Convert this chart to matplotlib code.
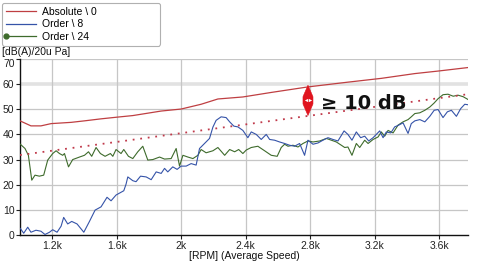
import matplotlib
matplotlib.use("Agg")
import matplotlib.pyplot as plt
from matplotlib.patches import Polygon
from matplotlib.lines import Line2D
import matplotlib.transforms as mtransforms

plt.rcParams['font.family'] = ['Liberation Sans', 'DejaVu Sans']

# ---- data -------------------------------------------------------------
abs_rpm = [1000, 1068, 1130, 1193, 1317, 1400, 1503, 1607, 1700, 1876, 2000,
           2124, 2228, 2383, 2559, 2787, 3036, 3242, 3450, 3594, 3780]
abs_db = [45.4, 43.4, 43.4, 44.3, 44.8, 45.4, 46.2, 46.9, 47.5, 49.3, 50.1,
          52.0, 54.1, 54.9, 56.7, 58.9, 60.8, 62.3, 64.2, 65.2, 66.6]

o8_rpm = [1002, 1023, 1048, 1068, 1099, 1130, 1155, 1183, 1203, 1230, 1255, 1271,
          1296, 1321, 1354, 1396, 1431, 1466, 1503, 1540, 1565, 1596, 1644, 1658,
          1669, 1700, 1720, 1748, 1783, 1814, 1845, 1876, 1897, 1917, 1948, 1975,
          2000, 2031, 2062, 2093, 2114, 2145, 2176, 2197, 2217, 2248, 2279, 2301,
          2327, 2352, 2383, 2414, 2435, 2466, 2497, 2528, 2549, 2580, 2611, 2642,
          2673, 2704, 2735, 2766, 2787, 2818, 2849, 2880, 2911, 2942, 2973, 3011,
          3035, 3060, 3087, 3114, 3139, 3164, 3191, 3211, 3232, 3253, 3273, 3301,
          3325, 3350, 3377, 3408, 3428, 3450, 3481, 3512, 3543, 3570, 3594, 3625,
          3652, 3677, 3708, 3735, 3760, 3780]
o8_db = [2.6, 0.7, 3.1, 1.1, 1.9, 1.5, 0.2, 1.1, 2.1, 1.1, 3.5, 7.0,
         4.4, 5.4, 4.4, 1.1, 5.4, 9.9, 11.2, 15.0, 13.6, 15.9, 17.6, 20.2,
         23.1, 21.6, 21.2, 23.4, 23.1, 22.0, 25.1, 24.5, 26.5, 25.1, 27.1, 26.1,
         27.4, 27.4, 28.4, 27.8, 34.4, 36.4, 38.4, 42.9, 45.6, 47.0, 46.7, 45.0,
         43.3, 43.0, 41.6, 38.7, 41.0, 40.0, 38.0, 40.0, 38.0, 37.7, 37.0, 36.4,
         35.7, 35.3, 36.4, 31.7, 37.7, 36.1, 36.6, 37.7, 38.7, 38.0, 37.4, 41.4,
         40.0, 37.7, 41.0, 38.7, 39.3, 37.4, 38.7, 40.0, 41.4, 38.7, 41.0, 40.6,
         43.0, 43.7, 44.6, 40.4, 44.3, 45.4, 45.9, 45.0, 47.2, 49.6, 49.9, 46.7,
         49.0, 49.6, 47.2, 50.3, 52.0, 51.8]

o24_rpm = [1002, 1031, 1052, 1073, 1093, 1120, 1147, 1172, 1203, 1224, 1245, 1265,
           1276, 1301, 1327, 1369, 1400, 1425, 1445, 1472, 1499, 1528, 1561, 1576,
           1596, 1627, 1644, 1673, 1700, 1731, 1762, 1793, 1824, 1866, 1897, 1938,
           1969, 1990, 2011, 2042, 2073, 2104, 2124, 2155, 2197, 2228, 2270, 2301,
           2332, 2357, 2383, 2404, 2435, 2476, 2518, 2559, 2596, 2621, 2642, 2663,
           2694, 2725, 2756, 2787, 2818, 2860, 2901, 2932, 2963, 2994, 3015, 3035,
           3060, 3087, 3108, 3139, 3160, 3191, 3222, 3242, 3263, 3284, 3315, 3346,
           3377, 3408, 3428, 3450, 3481, 3512, 3543, 3570, 3594, 3625, 3656, 3688,
           3719, 3750, 3780]
o24_db = [36.1, 34.4, 31.7, 21.8, 23.8, 23.4, 23.8, 29.8, 32.4, 33.5, 32.4, 31.7,
          32.4, 27.1, 30.0, 31.0, 31.7, 33.1, 31.3, 34.8, 32.4, 31.3, 32.4, 31.3,
          34.0, 32.4, 34.0, 31.3, 30.4, 33.1, 35.3, 29.8, 30.0, 31.0, 30.2, 30.4,
          34.4, 27.4, 31.7, 31.0, 30.4, 31.7, 34.0, 32.7, 33.5, 34.8, 31.7, 34.0,
          33.1, 34.0, 32.4, 33.8, 34.8, 35.3, 33.5, 31.7, 31.3, 34.8, 36.1, 35.3,
          35.7, 35.0, 36.4, 37.4, 37.0, 37.4, 38.4, 37.7, 37.0, 35.7, 34.8, 35.0,
          31.7, 36.4, 34.8, 37.7, 36.4, 38.0, 39.0, 41.0, 39.3, 41.6, 40.6, 43.7,
          45.0, 45.9, 47.0, 48.3, 48.6, 49.6, 50.9, 52.5, 54.2, 55.8, 56.0, 55.2,
          55.6, 55.0, 53.9]

limit_rpm = [1000, 3780]
limit_db = [31.8, 56.0]

arrow_rpm = 2787
arrow_top_db = 59.6
arrow_bot_db = 47.5
label_text = "\u2265 10 dB"

legend_labels = ["Absolute \\ 0", "Order \\ 8", "Order \\ 24"]
x_ticks = [1200, 1600, 2000, 2400, 2800, 3200, 3600]
x_ticklabels = ["1.2k", "1.6k", "2k", "2.4k", "2.8k", "3.2k", "3.6k"]
y_ticks = [0, 10, 20, 30, 40, 50, 60, 70]

# ---- figure -----------------------------------------------------------
W, H = 492, 265
fig = plt.figure(figsize=(W / 100, H / 100), dpi=100)
ax = fig.add_axes([20 / W, 1 - 235 / H, 448 / W, 176 / H])
ax.set_xlim(1000, 3780)
ax.set_ylim(0, 70)

c_red = "#bf3f42"
c_blue = "#3553a8"
c_green = "#3e6b2c"
c_dot = "#c0394a"

for yv in y_ticks[1:]:
    if yv == 60:
        ax.axhline(yv, color="#e2e2e2", lw=2.6, zorder=0)
    else:
        ax.axhline(yv, color="#c6c6c6", lw=0.9, zorder=0)
for xv in x_ticks:
    ax.axvline(xv, color="#c6c6c6", lw=0.9, zorder=0)

ax.plot(abs_rpm, abs_db, color=c_red, lw=0.9, zorder=3)
ax.plot(o24_rpm, o24_db, color=c_green, lw=0.8, zorder=3)
ax.plot(o8_rpm, o8_db, color=c_blue, lw=0.8, zorder=3)
ax.plot(limit_rpm, limit_db, color=c_dot, lw=1.3, linestyle=(0, (1, 3.2)), zorder=3)

# double-headed diamond arrow: x in pixels around arrow_rpm, y in data
blend = mtransforms.blended_transform_factory(
    ax.transData + mtransforms.ScaledTranslation(0, 0, fig.dpi_scale_trans),
    ax.transData)
mid_db = (arrow_top_db + arrow_bot_db) / 2
half_flat = (arrow_top_db - arrow_bot_db) * 0.12
xpix = fig.dpi / 100.0
off = mtransforms.ScaledTranslation
right = ax.transData + off(5 / 100, 0, fig.dpi_scale_trans)
left = ax.transData + off(-5 / 100, 0, fig.dpi_scale_trans)
# build polygon in display coords through the transforms
pts_data = [((arrow_rpm, arrow_top_db), ax.transData),
            ((arrow_rpm, mid_db + half_flat), right),
            ((arrow_rpm, mid_db - half_flat), right),
            ((arrow_rpm, arrow_bot_db), ax.transData),
            ((arrow_rpm, mid_db - half_flat), left),
            ((arrow_rpm, mid_db + half_flat), left)]
fig.canvas.draw()
disp = [tr.transform(p) for p, tr in pts_data]
inv = ax.transData.inverted()
poly_xy = [inv.transform(d) for d in disp]
ax.add_patch(Polygon(poly_xy, closed=True, facecolor="#e0141e",
                     edgecolor="#e0141e", lw=0.4, zorder=5))
for mk, dx in (("<", -1.8), (">", 1.8)):
    tr = ax.transData + off(dx / 100, 0, fig.dpi_scale_trans)
    ax.plot([arrow_rpm], [mid_db], marker=mk, ms=2.4, color="white", mew=0,
            transform=tr, zorder=6)

ax.text(2865, 52.3, label_text, fontsize=14, fontweight="bold",
        family=["DejaVu Sans"], color="#111111", va="center", ha="left", zorder=6)

ax.set_xticks(x_ticks)
ax.set_xticklabels(x_ticklabels)
ax.set_yticks(y_ticks)
ax.tick_params(axis="both", labelsize=7.5, colors="#222222", length=3, width=0.8, pad=1)
ax.get_yticklabels()[-1].set_verticalalignment("top")
for s in ["top", "right"]:
    ax.spines[s].set_visible(False)
for s in ["left", "bottom"]:
    ax.spines[s].set_color("#111111")
    ax.spines[s].set_linewidth(1.0)

ax.set_xlabel("[RPM] (Average Speed)", fontsize=7.5, color="#111111", labelpad=0)
fig.text(2 / W, 1 - 52 / H, "[dB(A)/20u Pa]", fontsize=7.5, color="#111111",
         va="center", ha="left")

handles = [Line2D([], [], color=c_red, lw=0.9),
           Line2D([], [], color=c_blue, lw=0.9),
           Line2D([], [], color=c_green, lw=0.9, marker="o", ms=3.5)]
leg = fig.legend(handles, legend_labels, loc="upper left",
                 bbox_to_anchor=(2 / W, 1 - 40 / H, 158 / W, 37 / H),
                 mode="expand", borderaxespad=0, fontsize=7.5,
                 handlelength=2.9, handletextpad=0.6, labelspacing=0.25,
                 borderpad=0.35, fancybox=True, framealpha=1,
                 edgecolor="#b0b0b0")
leg.get_frame().set_linewidth(0.8)
leg.get_lines()[2].set_markevery([0])

fig.savefig("out.png", dpi=100)
